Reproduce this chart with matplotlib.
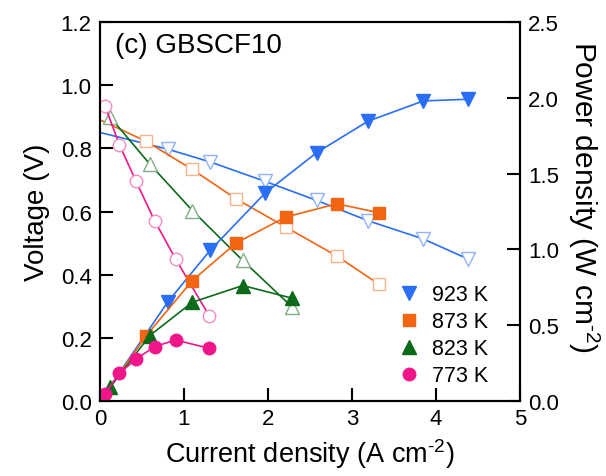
import numpy as np
import matplotlib.pyplot as plt
from matplotlib.lines import Line2D

plt.rcParams['font.family'] = ['Liberation Sans', 'DejaVu Sans']
plt.rcParams['mathtext.fontset'] = 'custom'
plt.rcParams['mathtext.rm'] = 'Liberation Sans'

temps = ["923 K", "873 K", "823 K", "773 K"]

# current density (A cm-2), voltage (V), power density (W cm-2)
i_923 = [0.0, 0.81, 1.31, 1.97, 2.58, 3.19, 3.85, 4.38]
v_923 = [0.85, 0.797, 0.757, 0.695, 0.635, 0.571, 0.513, 0.450]
p_923 = [0.0, 0.656, 0.993, 1.374, 1.638, 1.845, 1.979, 1.990]

i_873 = [0.0, 0.55, 1.10, 1.62, 2.21, 2.82, 3.32]
v_873 = [0.89, 0.822, 0.733, 0.640, 0.551, 0.459, 0.370]
p_873 = [0.0, 0.431, 0.795, 1.042, 1.213, 1.301, 1.242]

i_823 = [0.12, 0.59, 1.10, 1.70, 2.29]
v_823 = [0.899, 0.751, 0.603, 0.445, 0.297]
p_823 = [0.09, 0.431, 0.652, 0.762, 0.678]

i_773 = [0.06, 0.23, 0.43, 0.65, 0.90, 1.30]
v_773 = [0.934, 0.812, 0.695, 0.571, 0.450, 0.270]
p_773 = [0.046, 0.183, 0.277, 0.359, 0.403, 0.348]

blue, orange, green, pink = "#2a6ef5", "#f26513", "#0b6b1b", "#f0168a"
light = {blue: "#8fb2fa", orange: "#f9b48c", green: "#7fae86", pink: "#f48cc0"}

fig = plt.figure(figsize=(6.06, 4.77), dpi=100)
ax = fig.add_axes([0.165, 0.157, 0.693, 0.795])
ax2 = ax.twinx()

series = [
    (i_923, v_923, p_923, blue, "v", 10),
    (i_873, v_873, p_873, orange, "s", 9),
    (i_823, v_823, p_823, green, "^", 10),
    (i_773, v_773, p_773, pink, "o", 9),
]

for i, v, p, c, m, ms in series:
    # curves measured from OCV start at I = 0 without a marker there
    start = 1 if i[0] == 0 else 0
    ax.plot(i, v, color=c, lw=1.2, marker=m, ms=ms, mfc="white",
            mec=light[c], mew=1.0, markevery=slice(start, None))
    ip = list(i) if start else [0.0] + list(i)
    pp = list(p) if start else [0.0] + list(p)
    ax2.plot(ip, pp, color=c, lw=1.2, marker=m, ms=ms, mfc=c, mec=c,
             markevery=slice(1, None))

ax.set_xlim(0, 5)
ax.set_ylim(0, 1.2)
ax2.set_ylim(0, 2.5)
ax.set_xticks(np.arange(0, 6, 1))
ax.set_yticks(np.arange(0, 1.21, 0.2))
ax2.set_yticks(np.arange(0, 2.51, 0.5))
ax.yaxis.set_major_formatter(plt.FormatStrFormatter('%.1f'))
ax2.yaxis.set_major_formatter(plt.FormatStrFormatter('%.1f'))

for a in (ax, ax2):
    a.tick_params(direction="in", length=9.5, width=1.5, labelsize=16, pad=6)
    for s in a.spines.values():
        s.set_linewidth(1.5)
ax.tick_params(axis="x", pad=5)

ax.set_xlabel(r"Current density (A cm$^{\text{-2}}$)", fontsize=19.5, labelpad=5)
ax.set_ylabel("Voltage (V)", fontsize=20, labelpad=8)
ax2.set_ylabel(r"Power density (W cm$^{\text{-2}}$)", fontsize=21.5,
               rotation=270, labelpad=31)
ax2.yaxis.label.set_y(0.54)

ax.text(0.036, 0.94, "(c) GBSCF10", transform=ax.transAxes, fontsize=20, va="center")

handles = [Line2D([], [], ls="none", marker=m, ms=ms, color=c)
           for _, _, _, c, m, ms in series]
ax2.legend(handles, temps, loc="lower right", frameon=False, fontsize=15.5,
           handlelength=1.6, handletextpad=0.3, labelspacing=0.28,
           bbox_to_anchor=(0.971, -0.012))

fig.savefig("out.png", dpi=100)
